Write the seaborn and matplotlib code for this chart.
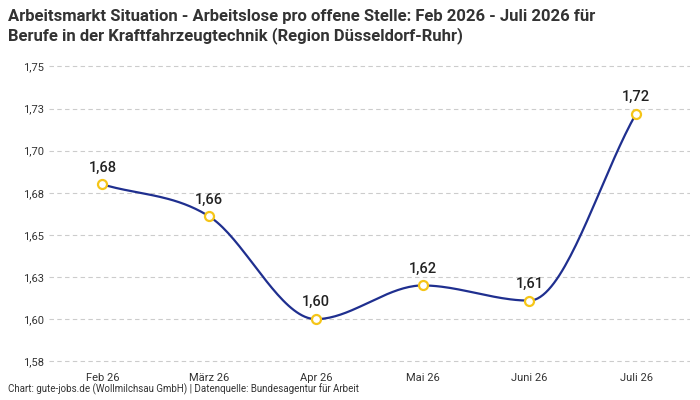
import numpy as np
import matplotlib
matplotlib.use("Agg")
import matplotlib.pyplot as plt
import seaborn as sns
from matplotlib.ticker import FuncFormatter, MultipleLocator

months = ["Feb 26", "März 26", "Apr 26", "Mai 26", "Juni 26", "Juli 26"]
values = [1.680, 1.661, 1.600, 1.620, 1.611, 1.722]
labels = ["1,68", "1,66", "1,60", "1,62", "1,61", "1,72"]

sns.set_theme(style="white")
plt.rcParams['font.family'] = ['Roboto', 'DejaVu Sans']

def monotone(x, y, n=40):
    x = np.asarray(x, float); y = np.asarray(y, float)
    h = np.diff(x); d = np.diff(y) / h
    m = np.zeros_like(y)
    m[0] = d[0]; m[-1] = d[-1]
    for i in range(1, len(y) - 1):
        if d[i-1] * d[i] <= 0:
            m[i] = 0
        else:
            m[i] = (d[i-1] + d[i]) / 2
            m[i] = np.sign(m[i]) * min(abs(m[i]), 3*min(abs(d[i-1]), abs(d[i])))
    xs, ys = [], []
    for i in range(len(h)):
        t = np.linspace(0, 1, n)
        h00 = 2*t**3 - 3*t**2 + 1; h10 = t**3 - 2*t**2 + t
        h01 = -2*t**3 + 3*t**2; h11 = t**3 - t**2
        xs.append(x[i] + t*h[i])
        ys.append(h00*y[i] + h10*h[i]*m[i] + h01*y[i+1] + h11*h[i]*m[i+1])
    return np.concatenate(xs), np.concatenate(ys)

fig, ax = plt.subplots(figsize=(7, 4), dpi=100)
fig.subplots_adjust(left=0.07, right=0.985, top=0.855, bottom=0.08)
xi = np.arange(len(months))
sx, sy = monotone(xi, values)
sns.lineplot(x=sx, y=sy, ax=ax, color="#1f2f8f", linewidth=1.6, sort=False)
ax.scatter(xi, values, s=42, facecolor="white", edgecolor="#f5c518", linewidth=1.6, zorder=5)
for x, v, l in zip(xi, values, labels):
    ax.annotate(l, (x, v), xytext=(0, 7), textcoords="offset points", ha="center",
                va="bottom", fontsize=10.5, fontweight="medium", color="#222222")

ax.set_xlim(-0.5, 5.5)
ax.set_ylim(1.571, 1.755)
ax.yaxis.set_major_locator(MultipleLocator(0.025))
ax.yaxis.set_major_formatter(FuncFormatter(lambda v, p: f"{v:.2f}".replace(".", ",")))
ax.set_xticks(xi)
ax.set_xticklabels(months)
ax.tick_params(axis="both", labelsize=8, colors="#333333", length=0)
ax.grid(axis="y", color="#cccccc", linestyle=(0, (4, 3)), linewidth=0.8)
for s in ax.spines.values():
    s.set_visible(False)
ax.set_xlabel(""); ax.set_ylabel("")

fig.text(0.012, 0.978, "Arbeitsmarkt Situation - Arbeitslose pro offene Stelle: Feb 2026 - Juli 2026 für\nBerufe in der Kraftfahrzeugtechnik (Region Düsseldorf-Ruhr)",
         ha="left", va="top", fontsize=12, fontweight="bold", color="#333333", linespacing=1.25)
fig.text(0.012, 0.012, "Chart: gute-jobs.de (Wollmilchsau GmbH) | Datenquelle: Bundesagentur für Arbeit",
         ha="left", va="bottom", fontsize=7, color="#333333")
fig.savefig("out.png", dpi=100)
